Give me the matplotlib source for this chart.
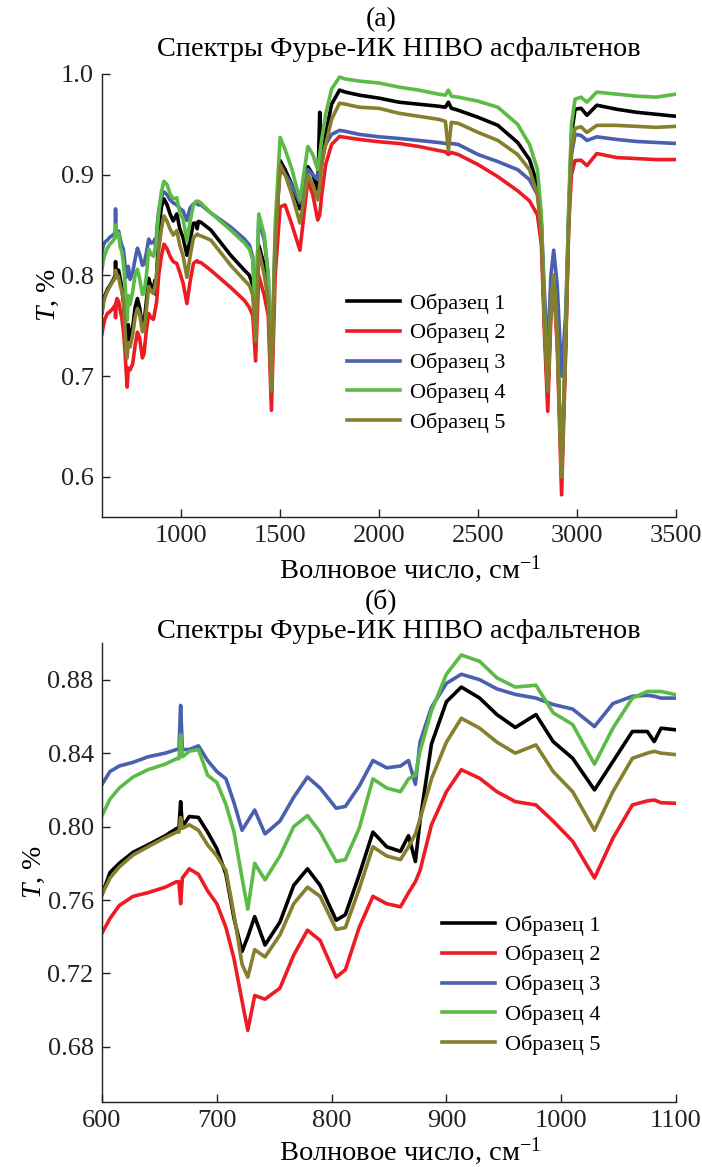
import matplotlib
matplotlib.use("Agg")
import matplotlib.pyplot as plt
import numpy as np

plt.rcParams['font.family'] = ['Liberation Serif', 'DejaVu Serif']
plt.rcParams['mathtext.fontset'] = 'custom'
plt.rcParams['mathtext.rm'] = 'Liberation Serif'
plt.rcParams['mathtext.it'] = 'Liberation Serif:italic'

# wavenumber grid, cm-1 (dense in 600-1100, coarser above)
wn = [600, 607, 615, 627, 640, 655, 665, 667, 668.5, 670,
      676, 684, 692, 700, 708, 715, 722, 727, 733, 742,
      755, 767, 779, 790, 804, 812, 824, 836, 848, 860,
      867, 873, 877, 887, 900, 913, 929, 944, 960, 978,
      993, 1010, 1029, 1045, 1062, 1075, 1081, 1087, 1100,
      1150, 1250, 1320, 1345, 1362, 1376, 1392, 1420, 1440, 1456,
      1475, 1500, 1525, 1560, 1600, 1640, 1665, 1690, 1700, 1710,
      1730, 1760, 1800, 1830, 1900, 2000, 2100, 2200, 2300, 2335,
      2350, 2365, 2400, 2500, 2600, 2700, 2760, 2800, 2820, 2836,
      2852, 2868, 2882, 2900, 2922, 2942, 2958, 2972, 2990, 3020,
      3050, 3100, 3200, 3300, 3400, 3500]

sample1 = [0.763, 0.775, 0.780, 0.786, 0.790, 0.795, 0.799, 0.799, 0.8136, 0.800,
           0.8055, 0.805, 0.797, 0.788, 0.774, 0.750, 0.732, 0.740, 0.751, 0.7355,
           0.748, 0.768, 0.777, 0.768, 0.749, 0.752, 0.7736, 0.797, 0.789, 0.7865,
           0.795, 0.781, 0.803, 0.845, 0.868, 0.876, 0.870, 0.861, 0.854, 0.861,
           0.8463, 0.8372, 0.820, 0.8354, 0.8518, 0.8518, 0.8463, 0.8536, 0.8527,
           0.845, 0.82, 0.805, 0.80, 0.79, 0.74, 0.83, 0.81, 0.78, 0.685,
           0.83, 0.914, 0.905, 0.89, 0.866, 0.908, 0.90, 0.885, 0.962, 0.91,
           0.94, 0.97, 0.984, 0.982, 0.979, 0.976, 0.972, 0.970, 0.968, 0.967,
           0.972, 0.966, 0.964, 0.957, 0.949, 0.932, 0.915, 0.89, 0.85, 0.75,
           0.68, 0.77, 0.80, 0.74, 0.60, 0.73, 0.86, 0.94, 0.965, 0.966,
           0.959, 0.969, 0.965, 0.962, 0.96, 0.958]

sample2 = [0.742, 0.750, 0.757, 0.762, 0.764, 0.767, 0.770, 0.770, 0.758, 0.772,
           0.777, 0.774, 0.765, 0.758, 0.745, 0.728, 0.705, 0.689, 0.708, 0.706,
           0.712, 0.730, 0.7436, 0.738, 0.718, 0.722, 0.745, 0.762, 0.758, 0.7563,
           0.764, 0.770, 0.776, 0.801, 0.819, 0.831, 0.8263, 0.819, 0.8136, 0.8118,
           0.803, 0.792, 0.772, 0.7936, 0.8118, 0.814, 0.8145, 0.813, 0.8127,
           0.805, 0.788, 0.775, 0.768, 0.76, 0.715, 0.80, 0.78, 0.76, 0.666,
           0.80, 0.868, 0.87, 0.85, 0.825, 0.8945, 0.88, 0.855, 0.86, 0.88,
           0.91, 0.93, 0.938, 0.937, 0.935, 0.9327, 0.931, 0.928, 0.924, 0.9227,
           0.92, 0.922, 0.92, 0.91, 0.898, 0.884, 0.874, 0.86, 0.83, 0.74,
           0.665, 0.76, 0.79, 0.73, 0.582, 0.72, 0.85, 0.90, 0.914, 0.9144,
           0.909, 0.921, 0.917, 0.916, 0.915, 0.915]

sample3 = [0.823, 0.830, 0.833, 0.835, 0.838, 0.840, 0.842, 0.842, 0.866, 0.842,
           0.842, 0.844, 0.836, 0.830, 0.826, 0.813, 0.798, 0.803, 0.809, 0.796,
           0.803, 0.816, 0.827, 0.821, 0.810, 0.811, 0.822, 0.836, 0.832, 0.833,
           0.836, 0.823, 0.846, 0.865, 0.878, 0.883, 0.880, 0.875, 0.872, 0.870,
           0.8665, 0.864, 0.8545, 0.867, 0.871, 0.8715, 0.871, 0.870, 0.870,
           0.862, 0.848, 0.836, 0.830, 0.818, 0.76, 0.855, 0.835, 0.80, 0.70,
           0.84, 0.905, 0.90, 0.89, 0.872, 0.905, 0.90, 0.895, 0.905, 0.915,
           0.93, 0.940, 0.944, 0.943, 0.940, 0.9376, 0.936, 0.934, 0.932, 0.931,
           0.93, 0.931, 0.93, 0.92, 0.913, 0.905, 0.895, 0.88, 0.85, 0.78,
           0.72, 0.80, 0.825, 0.79, 0.70, 0.76, 0.86, 0.92, 0.94, 0.939,
           0.934, 0.9376, 0.935, 0.933, 0.932, 0.931]

sample4 = [0.806, 0.815, 0.821, 0.827, 0.831, 0.834, 0.837, 0.837, 0.850, 0.838,
           0.841, 0.842, 0.828, 0.824, 0.812, 0.797, 0.772, 0.755, 0.780, 0.771,
           0.784, 0.800, 0.806, 0.797, 0.781, 0.782, 0.799, 0.826, 0.821, 0.819,
           0.826, 0.828, 0.841, 0.863, 0.883, 0.8935, 0.890, 0.881, 0.876, 0.877,
           0.862, 0.8556, 0.834, 0.8536, 0.870, 0.8736, 0.8736, 0.8736, 0.8718,
           0.862, 0.845, 0.832, 0.826, 0.815, 0.752, 0.861, 0.84, 0.80, 0.69,
           0.85, 0.937, 0.925, 0.905, 0.875, 0.928, 0.92, 0.905, 0.92, 0.935,
           0.96, 0.985, 0.997, 0.995, 0.993, 0.991, 0.987, 0.984, 0.98, 0.979,
           0.984, 0.978, 0.977, 0.973, 0.967, 0.950, 0.93, 0.905, 0.86, 0.76,
           0.69, 0.77, 0.80, 0.74, 0.60, 0.74, 0.87, 0.95, 0.975, 0.977,
           0.972, 0.982, 0.98, 0.978, 0.977, 0.98]

sample5 = [0.763, 0.772, 0.778, 0.7845, 0.789, 0.794, 0.797, 0.797, 0.805, 0.799,
           0.801, 0.798, 0.790, 0.784, 0.776, 0.752, 0.725, 0.718, 0.733, 0.729,
           0.741, 0.758, 0.767, 0.762, 0.744, 0.745, 0.766, 0.789, 0.784, 0.782,
           0.789, 0.796, 0.804, 0.826, 0.846, 0.859, 0.8536, 0.846, 0.840, 0.8445,
           0.830, 0.819, 0.798, 0.819, 0.8372, 0.840, 0.841, 0.840, 0.8392,
           0.835, 0.81, 0.795, 0.79, 0.78, 0.735, 0.825, 0.80, 0.775, 0.685,
           0.83, 0.91, 0.90, 0.88, 0.852, 0.90, 0.89, 0.875, 0.89, 0.91,
           0.93, 0.955, 0.971, 0.97, 0.967, 0.9659, 0.961, 0.958, 0.955, 0.953,
           0.924, 0.952, 0.951, 0.942, 0.934, 0.92, 0.905, 0.88, 0.84, 0.75,
           0.685, 0.77, 0.80, 0.74, 0.60, 0.73, 0.85, 0.925, 0.946, 0.9476,
           0.942, 0.949, 0.949, 0.948, 0.947, 0.948]

labels = ['Образец 1', 'Образец 2', 'Образец 3', 'Образец 4', 'Образец 5']
colors = ['#000000', '#ed1c24', '#4a5fad', '#5cbb46', '#857f2e']
series = [sample1, sample2, sample3, sample4, sample5]

W, H = 702, 1167
fig = plt.figure(figsize=(W / 100, H / 100), dpi=100)


def box(left, top, right, bottom):
    return [left / W, 1 - bottom / H, (right - left) / W, (bottom - top) / H]


def style(ax):
    for s in ['top', 'right']:
        ax.spines[s].set_visible(False)
    for s in ['left', 'bottom']:
        ax.spines[s].set_linewidth(1.0)
        ax.spines[s].set_color('#222222')
    ax.tick_params(direction='in', length=6, width=1.0, labelsize=19,
                   pad=6, colors='#222222', labelcolor='#222222')


ax1 = fig.add_axes(box(102, 74, 676, 517))
ax2 = fig.add_axes(box(102, 643, 676, 1102))

for ax in (ax1, ax2):
    for vals, c, lab in zip(series, colors, labels):
        ax.plot(wn, vals, color=c, lw=2.6, label=lab)
    style(ax)
    ax.set_ylabel('$T$, %', fontsize=20, labelpad=0)

ax1.set_xlim(600, 3500)
ax1.set_ylim(0.56, 1.0)
ax1.set_xticks([1000, 1500, 2000, 2500, 3000, 3500])
ax1.set_yticks([0.6, 0.7, 0.8, 0.9, 1.0])
ax1.set_yticklabels(['0.6', '0.7', '0.8', '0.9', '1.0'])

ax2.set_xlim(600, 1100)
ax2.set_ylim(0.65, 0.90)
ax2.set_xticks([600, 700, 800, 900, 1000, 1100])
ax2.set_yticks([0.68, 0.72, 0.76, 0.80, 0.84, 0.88])
ax2.set_yticklabels(['0.68', '0.72', '0.76', '0.80', '0.84', '0.88'])

leg_kw = dict(frameon=False, fontsize=16, handlelength=2.4, handletextpad=0.45,
              labelspacing=0.42, borderpad=0, borderaxespad=0, loc='upper left')
ax1.legend(bbox_to_anchor=((347 - 102) / 574, (517 - 293) / 443), **leg_kw)
ax2.legend(bbox_to_anchor=((442 - 102) / 574, (1102 - 915) / 459), **leg_kw)

xlab = 'Волновое число, см$^{-1}$'
title = 'Спектры Фурье-ИК НПВО асфальтенов'
fig.text(381 / W, 1 - 20 / H, '(a)', ha='center', va='center', fontsize=20)
fig.text(399 / W, 1 - 50 / H, title, ha='center', va='center', fontsize=20.4)
fig.text(410 / W, 1 - 569 / H, xlab, ha='center', va='center', fontsize=20.5)
fig.text(381 / W, 1 - 601 / H, '(б)', ha='center', va='center', fontsize=20)
fig.text(399 / W, 1 - 632 / H, title, ha='center', va='center', fontsize=20.4)
fig.text(410 / W, 1 - 1151 / H, xlab, ha='center', va='center', fontsize=20.5)

fig.savefig('out.png', dpi=100)
